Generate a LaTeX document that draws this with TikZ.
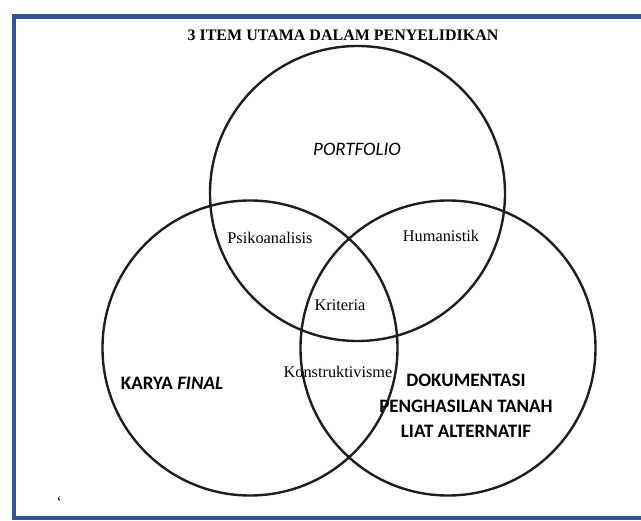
\documentclass[tikz,border=0pt]{standalone}
\usepackage{fontspec}
\setmainfont{Liberation Serif}
\newfontfamily\calib{Carlito}
\definecolor{framebl}{RGB}{47,85,151}
\definecolor{ringgray}{RGB}{30,30,30}
\tikzset{
  vring/.style={circle, draw=ringgray, line width=2.4pt, minimum size=295pt, inner sep=0pt},
  serlab/.style={inner sep=0pt, font=\fontsize{16.3}{19}\selectfont},
  sanslab/.style={inner sep=0pt, font=\calib\fontsize{19}{25.5}\selectfont, align=center},
  titlelab/.style={inner sep=0pt, font=\bfseries\fontsize{16}{19}\selectfont},
  framel/.style={draw=framebl, line width=4.5pt}
}
\begin{document}
\begin{tikzpicture}[x=1pt,y=-1pt]
\useasboundingbox (0,0) rectangle (641,521);
\fill[white] (0,0) rectangle (641,521);
\draw[framel] (645,16.5) -| (14,518) -- (645,518);
\node[vring] (ctop) at (357.5,193.5) {};
\node[vring] (cleft) at (250,348) {};
\node[vring] (cright) at (448,348) {};
\node[titlelab] (title) at (343,35) {3 ITEM UTAMA DALAM PENYELIDIKAN};
\node[sanslab] (portfolio) at (357,149) {\itshape PORTFOLIO};
\node[serlab] (psiko) at (270,238) {Psikoanalisis};
\node[serlab] (human) at (441,236) {Humanistik};
\node[serlab] (krit) at (340,305) {Kriteria};
\node[serlab] (konst) at (338,372) {Konstruktivisme};
\node[sanslab] (karya) at (172,383) {\bfseries KARYA \itshape FINAL};
\node[sanslab] (doku) at (466,406) {\bfseries DOKUMENTASI\\\bfseries PENGHASILAN TANAH\\\bfseries LIAT ALTERNATIF};
\node[serlab] (tick) at (59,502) {\char"60};
\end{tikzpicture}
\end{document}
